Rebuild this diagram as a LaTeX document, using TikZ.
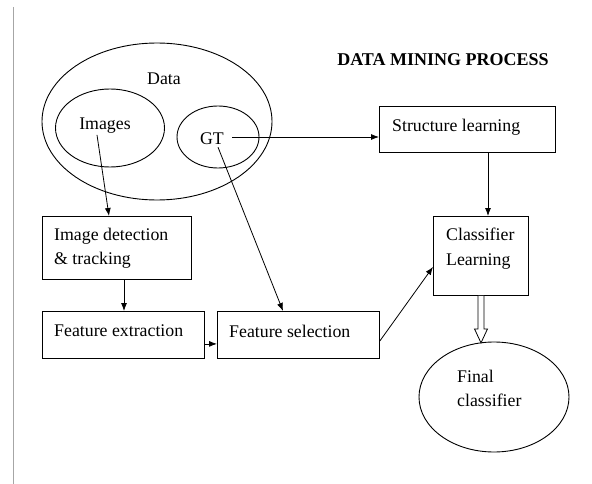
\documentclass[tikz,border=0pt]{standalone}
\usepackage{fontspec}
\setmainfont{Liberation Serif}
\usetikzlibrary{shapes.geometric,arrows.meta,calc}
\begin{document}
\begin{tikzpicture}[x=1pt,y=-1pt,
  every node/.style={font=\fontsize{17.8}{24.5}\selectfont},
  box/.style={draw,line width=0.9,anchor=north west,inner sep=0pt},
  oval/.style={draw,ellipse,line width=0.9,inner sep=0pt},
  txt/.style={anchor=west,align=left,inner sep=1pt},
  arr/.style={line width=0.8,-{Latex[length=8,width=6]}}]
\useasboundingbox (0,0) rectangle (592,484);
\draw[black!35,line width=1.3] (13.5,7) -- (13.5,484);
% title
\node[font=\fontsize{18}{22}\selectfont\bfseries] (title) at (443,60) {DATA MINING PROCESS};
% ellipses
\node[oval,minimum width=230,minimum height=157] (data) at (157,121.5) {};
\node (datat) at (164,79) {Data};
\node[oval,minimum width=109,minimum height=78] (img) at (110,128) {};
\node[inner sep=1pt] (imgt) at (105,126) {Images};
\node[oval,minimum width=82,minimum height=62] (gt) at (218,137) {};
\node[inner sep=1pt] (gtt) at (212,139) {GT};
% boxes
\node[box,minimum width=176,minimum height=46] (str) at (379,106) {};
\node[txt] at (391,127) {Structure learning};
\node[box,minimum width=95,minimum height=79] (cls) at (433,216) {};
\node[txt] at (445,248.5) {Classifier\\Learning};
\node[box,minimum width=149,minimum height=63] (det) at (42,216) {};
\node[txt] at (53,248) {Image detection\\\& tracking};
\node[box,minimum width=162,minimum height=47] (fext) at (42,311) {};
\node[txt] at (53,331) {Feature extraction};
\node[box,minimum width=162,minimum height=47] (fsel) at (217,311) {};
\node[txt] at (228,331) {Feature selection};
\node[oval,minimum width=150,minimum height=110] (fin) at (494,397) {};
\node[txt] at (456,388.5) {Final\\classifier};
% connectors
\draw[arr] ($(gtt.east)+(7,-2)$) -- ($(gtt.east -| str.west)+(0,-2)$);
\draw[arr] ($(imgt.south)+(-8,0)$) -- ($(det.north west)+(67,0)$);
\draw[arr] ($(gtt.south)+(6,1)$) -- ($(fsel.north west)+(66,0)$);
\draw[arr] ($(det.south west)+(82,0)$) -- ($(fext.north west)+(82,0)$);
\draw[arr] ($(fext.south east)+(0,-15)$) -- ($(fsel.south west)+(0,-15)$);
\draw[arr] ($(fsel.south east)+(0,-18)$) -- ($(cls.south west)+(0,-29)$);
\draw[arr] ($(str.south west)+(109,0)$) -- ($(cls.north west)+(55,0)$);
% hollow arrow
\draw[line width=0.8,fill=white] ($(cls.south west)+(45,0)$) -- ++(0,33) -- ++(-3.5,0) -- ($(cls.south west)+(48,47)$) -- ($(cls.south west)+(54.5,33)$) -- ++(-3.5,0) -- ($(cls.south west)+(51,0)$);
\end{tikzpicture}
\end{document}
